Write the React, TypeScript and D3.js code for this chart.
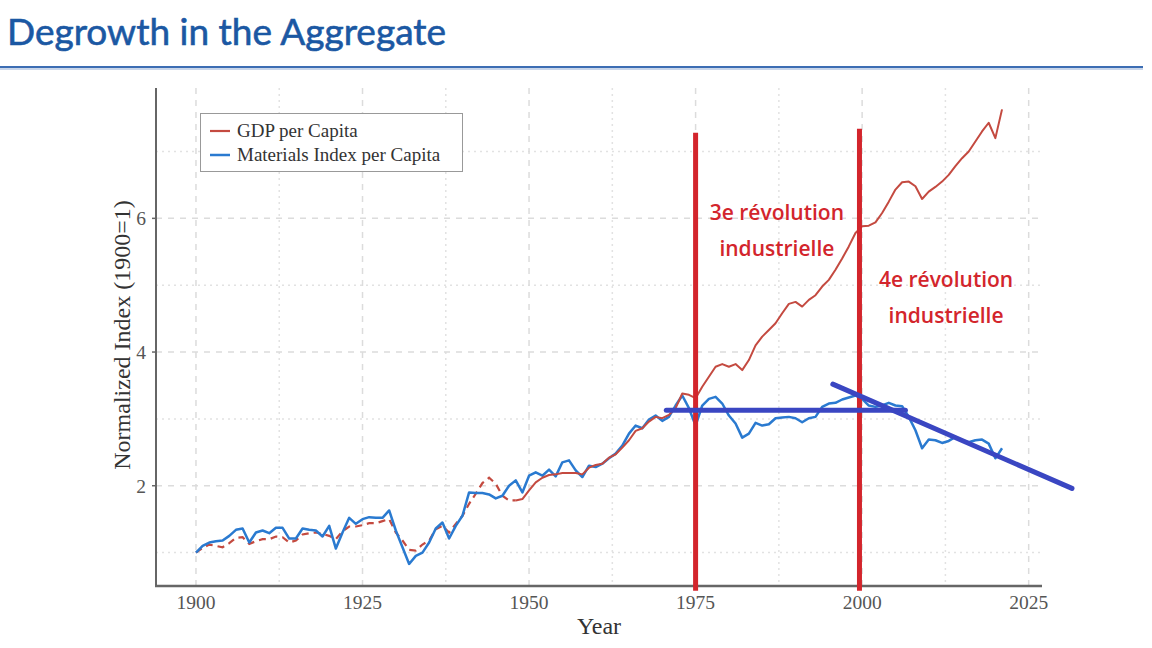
import * as d3 from 'd3';
import { useEffect } from 'react';

const WIDTH = 1152;
const HEIGHT = 648;
const PLOT = { left: 156, right: 1042, top: 88, bottom: 586 };

// Years 1900..2021, one value per year
const START_YEAR = 1900;

const gdpPerCapita = [
  1.0, 1.07, 1.12, 1.1, 1.08, 1.14, 1.22, 1.23, 1.13, 1.17,
  1.2, 1.2, 1.24, 1.23, 1.15, 1.18, 1.27, 1.29, 1.3, 1.28,
  1.25, 1.2, 1.32, 1.39, 1.39, 1.41, 1.44, 1.44, 1.47, 1.5,
  1.3, 1.18, 1.04, 1.03, 1.12, 1.18, 1.35, 1.4, 1.3, 1.43,
  1.55, 1.73, 1.88, 2.04, 2.12, 2.03, 1.85, 1.78, 1.78, 1.8,
  1.93, 2.05, 2.12, 2.16, 2.17, 2.19, 2.19, 2.19, 2.17, 2.27,
  2.31, 2.33, 2.42, 2.47, 2.57, 2.68, 2.82, 2.86, 2.96, 3.03,
  3.01, 3.06, 3.16, 3.38, 3.36, 3.31, 3.48, 3.63, 3.78, 3.82,
  3.78, 3.82, 3.73, 3.88, 4.1, 4.23, 4.33, 4.43, 4.58, 4.72,
  4.75, 4.68, 4.78, 4.85, 4.98, 5.08, 5.23, 5.4, 5.58, 5.78,
  5.88, 5.89, 5.94, 6.08, 6.25, 6.43, 6.54, 6.55, 6.48, 6.29,
  6.4, 6.47, 6.55, 6.65, 6.78, 6.9, 7.0, 7.15, 7.3, 7.43,
  7.2, 7.63,
];

const materialsPerCapita = [
  1.0, 1.1, 1.15, 1.17, 1.18, 1.25, 1.34, 1.36, 1.15, 1.3,
  1.33, 1.29, 1.37, 1.37, 1.21, 1.21, 1.36, 1.34, 1.33, 1.24,
  1.4, 1.06, 1.3, 1.52, 1.43, 1.5, 1.53, 1.52, 1.52, 1.63,
  1.33, 1.08, 0.83, 0.95, 1.0, 1.15, 1.36, 1.45, 1.21, 1.4,
  1.55, 1.9, 1.89, 1.89, 1.87, 1.81, 1.85, 2.0, 2.08, 1.9,
  2.15, 2.2, 2.15, 2.24, 2.14, 2.35, 2.38, 2.23, 2.13, 2.3,
  2.28, 2.33, 2.41, 2.48, 2.6, 2.78, 2.9, 2.86, 2.99, 3.05,
  2.97, 3.03, 3.2, 3.35, 3.16, 2.9, 3.2, 3.3, 3.33, 3.23,
  3.05, 2.93, 2.72, 2.78, 2.94, 2.9, 2.92, 3.01, 3.02, 3.03,
  3.01, 2.95, 3.01, 3.03, 3.18, 3.23, 3.24, 3.29, 3.32, 3.35,
  3.3, 3.2, 3.18, 3.2, 3.24, 3.2, 3.19, 3.03, 2.83, 2.56,
  2.69, 2.68, 2.64, 2.67, 2.73, 2.68, 2.65, 2.68, 2.69, 2.63,
  2.41, 2.56,
];

// GDP is drawn dashed up to this year, solid after
const GDP_DASHED_UNTIL = 1948;

const xTicks = [1900, 1925, 1950, 1975, 2000, 2025];
const xMinorTicks = [1912.5, 1937.5, 1962.5, 1987.5, 2012.5];
const yTicks = [2, 4, 6];
const yMinorTicks = [1, 3, 5, 7];

// Hand-drawn annotations (data coordinates)
const revolutionLines = [
  { year: 1975, from: 0.43, to: 7.28 },
  { year: 1999.6, from: 0.43, to: 7.34 },
];
const revolutionLabels = [
  { year: 1987.2, value: 5.97, lines: ['3e révolution', 'industrielle'] },
  { year: 2012.6, value: 4.97, lines: ['4e révolution', 'industrielle'] },
];
const trendLines = [
  { x1: 1970.6, y1: 3.13, x2: 2006.5, y2: 3.13 },
  { x1: 1995.6, y1: 3.52, x2: 2031.5, y2: 1.96 },
];

const RED = '#c44a40';
const BLUE = '#2a7ad0';
const ANNOT_RED = '#d3252c';
const ANNOT_BLUE = '#3a46c2';
const SERIF = '"Liberation Serif", "DejaVu Serif", serif';

export default function App() {
  useEffect(() => {
    document.body.style.margin = '0';
  }, []);

  const x = d3.scaleLinear().domain([1894, 2027]).range([PLOT.left, PLOT.right]);
  const y = d3.scaleLinear().domain([0.5, 7.95]).range([PLOT.bottom, PLOT.top]);

  const years = gdpPerCapita.map((_, i) => START_YEAR + i);
  const line = d3
    .line<[number, number]>()
    .x((d) => x(d[0]))
    .y((d) => y(d[1]));

  const gdpPts: [number, number][] = years.map((yr, i) => [yr, gdpPerCapita[i]]);
  const matPts: [number, number][] = years.map((yr, i) => [yr, materialsPerCapita[i]]);
  const gdpDashed = gdpPts.filter((d) => d[0] <= GDP_DASHED_UNTIL);
  const gdpSolid = gdpPts.filter((d) => d[0] >= GDP_DASHED_UNTIL);

  return (
    <div style={{ position: 'fixed', left: 0, top: 0 }}>
      <svg width={WIDTH} height={HEIGHT} style={{ display: 'block', background: '#fff' }}>
        {/* header */}
        <text x={7} y={45} fontFamily="Lato, sans-serif" fontSize={37} fill="#1b58a3"
          stroke="#1b58a3" strokeWidth={0.6}>
          Degrowth in the Aggregate
        </text>
        <line x1={0} x2={1143} y1={69} y2={69} stroke="#c9d6ea" strokeWidth={2} />
        <line x1={0} x2={1143} y1={67} y2={67} stroke="#3c6db3" strokeWidth={2} />

        {/* grid */}
        {yMinorTicks.map((v) => (
          <line key={'ym' + v} x1={PLOT.left} x2={PLOT.right} y1={y(v)} y2={y(v)}
            stroke="#e2e2e2" strokeWidth={1.5} strokeDasharray="2,4" />
        ))}
        {xMinorTicks.map((v) => (
          <line key={'xm' + v} x1={x(v)} x2={x(v)} y1={PLOT.top} y2={PLOT.bottom}
            stroke="#e2e2e2" strokeWidth={1.5} strokeDasharray="2,4" />
        ))}
        {yTicks.map((v) => (
          <line key={'y' + v} x1={PLOT.left} x2={PLOT.right} y1={y(v)} y2={y(v)}
            stroke="#dcdcdc" strokeWidth={1.5} strokeDasharray="6,6" />
        ))}
        {xTicks.map((v) => (
          <line key={'x' + v} x1={x(v)} x2={x(v)} y1={PLOT.top} y2={PLOT.bottom}
            stroke="#dcdcdc" strokeWidth={1.5} strokeDasharray="6,6" />
        ))}

        {/* axes */}
        <line x1={PLOT.left} x2={PLOT.left} y1={PLOT.top} y2={PLOT.bottom + 1} stroke="#666" strokeWidth={2} />
        <line x1={PLOT.left - 1} x2={PLOT.right} y1={PLOT.bottom} y2={PLOT.bottom} stroke="#666" strokeWidth={2.5} />
        {yTicks.map((v) => (
          <g key={'yl' + v}>
            <line x1={PLOT.left - 4} x2={PLOT.left} y1={y(v)} y2={y(v)} stroke="#666" strokeWidth={1.5} />
            <text x={PLOT.left - 10} y={y(v)} dy="0.35em" textAnchor="end"
              fontFamily={SERIF} fontSize={19.5} fill="#555">{v}</text>
          </g>
        ))}
        {xTicks.map((v) => (
          <text key={'xl' + v} x={x(v)} y={PLOT.bottom + 23} textAnchor="middle"
            fontFamily={SERIF} fontSize={19.5} fill="#555">{v}</text>
        ))}
        <text x={x(1960.5)} y={634} textAnchor="middle" fontFamily={SERIF} fontSize={24} fill="#333">Year</text>
        <text transform="translate(130,335) rotate(-90)" textAnchor="middle"
          fontFamily={SERIF} fontSize={24} fill="#333">Normalized Index (1900=1)</text>

        {/* series */}
        <path d={line(gdpDashed) ?? ''} fill="none" stroke={RED} strokeWidth={2.2} strokeDasharray="7,5" />
        <path d={line(matPts) ?? ''} fill="none" stroke={BLUE} strokeWidth={2.5} strokeLinejoin="round" />
        <path d={line(gdpSolid) ?? ''} fill="none" stroke={RED} strokeWidth={2} strokeLinejoin="round" />

        {/* legend */}
        <rect x={200.5} y={113.5} width={262} height={58} fill="#fff" stroke="#999" strokeWidth={1} />
        <line x1={210} x2={230} y1={131} y2={131} stroke={RED} strokeWidth={2.2} />
        <text x={237} y={137} fontFamily={SERIF} fontSize={19} fill="#333">GDP per Capita</text>
        <line x1={210} x2={230} y1={155} y2={155} stroke={BLUE} strokeWidth={2.5} />
        <text x={237} y={161} fontFamily={SERIF} fontSize={19} fill="#333">Materials Index per Capita</text>

        {/* annotations */}
        {revolutionLines.map((r) => (
          <line key={'r' + r.year} x1={x(r.year)} x2={x(r.year)} y1={y(r.to)} y2={y(r.from)}
            stroke={ANNOT_RED} strokeWidth={5} />
        ))}
        {trendLines.map((t, i) => (
          <line key={'t' + i} x1={x(t.x1)} y1={y(t.y1)} x2={x(t.x2)} y2={y(t.y2)}
            stroke={ANNOT_BLUE} strokeWidth={5} strokeLinecap="round" />
        ))}
        {revolutionLabels.map((l) => (
          <text key={l.lines[0]} x={x(l.year)} y={y(l.value)} textAnchor="middle"
            fontFamily='"Open Sans", sans-serif' fontWeight={600} fontSize={21} fill={ANNOT_RED}>
            {l.lines.map((s, i) => (
              <tspan key={i} x={x(l.year)} dy={i === 0 ? 0 : 36}>{s}</tspan>
            ))}
          </text>
        ))}
      </svg>
    </div>
  );
}
